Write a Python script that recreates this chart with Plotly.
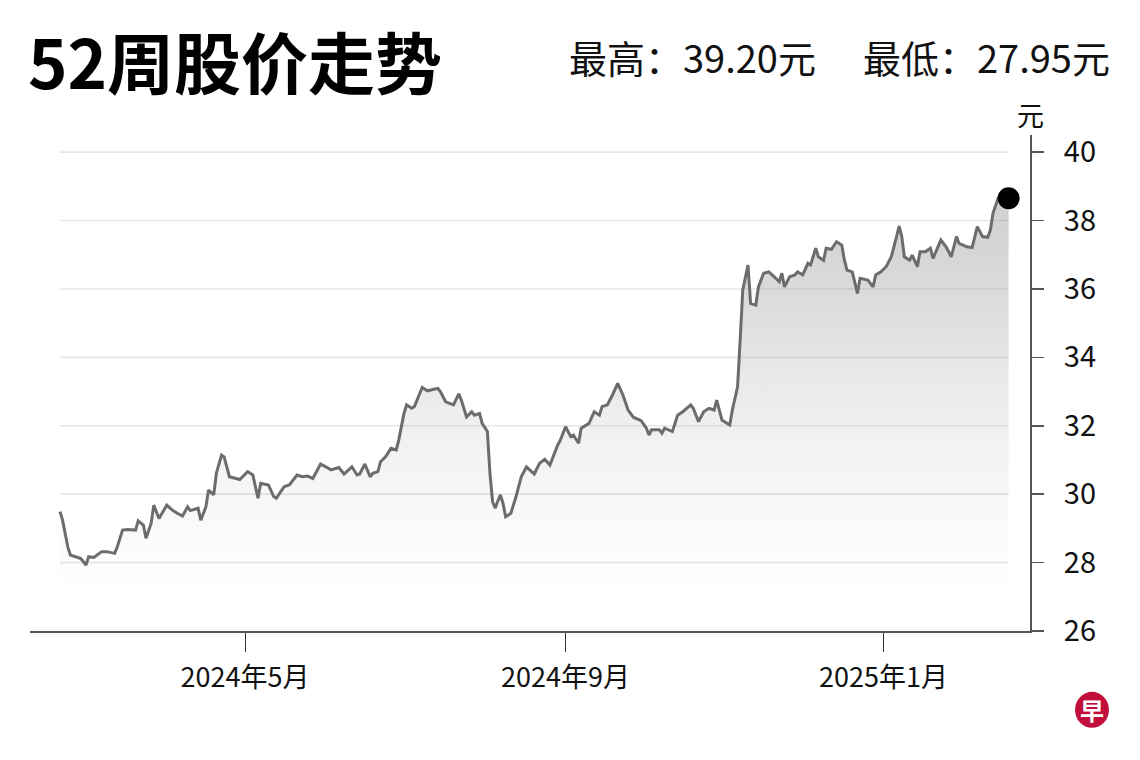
import plotly.graph_objects as go

# ---------------- data ----------------
dates = [
    "2024-02-20", "2024-02-21", "2024-02-23", "2024-02-24", "2024-02-26", "2024-02-28",
    "2024-03-01", "2024-03-02", "2024-03-04", "2024-03-07", "2024-03-09", "2024-03-12",
    "2024-03-13", "2024-03-15", "2024-03-17", "2024-03-20", "2024-03-21", "2024-03-23",
    "2024-03-24", "2024-03-26", "2024-03-27", "2024-03-29",
    "2024-04-01", "2024-04-03", "2024-04-05", "2024-04-07", "2024-04-09", "2024-04-10",
    "2024-04-13", "2024-04-14", "2024-04-16", "2024-04-17", "2024-04-19", "2024-04-20",
    "2024-04-22", "2024-04-23", "2024-04-25", "2024-04-27", "2024-04-29",
    "2024-05-02", "2024-05-04", "2024-05-06", "2024-05-07", "2024-05-10", "2024-05-12",
    "2024-05-13", "2024-05-16", "2024-05-18", "2024-05-21", "2024-05-23", "2024-05-25",
    "2024-05-27", "2024-05-30",
    "2024-06-01", "2024-06-03", "2024-06-06", "2024-06-08", "2024-06-11", "2024-06-13",
    "2024-06-14", "2024-06-16", "2024-06-18", "2024-06-19", "2024-06-21", "2024-06-22",
    "2024-06-24", "2024-06-26", "2024-06-28", "2024-06-29",
    "2024-07-01", "2024-07-02", "2024-07-04", "2024-07-05", "2024-07-08", "2024-07-10",
    "2024-07-12", "2024-07-14", "2024-07-15", "2024-07-17", "2024-07-20", "2024-07-22",
    "2024-07-23", "2024-07-25", "2024-07-27", "2024-07-28", "2024-07-30", "2024-07-31",
    "2024-08-02", "2024-08-03", "2024-08-04", "2024-08-05", "2024-08-06", "2024-08-07",
    "2024-08-08", "2024-08-09", "2024-08-11", "2024-08-13", "2024-08-15", "2024-08-17",
    "2024-08-20", "2024-08-22", "2024-08-24", "2024-08-26", "2024-08-29", "2024-08-30",
    "2024-09-01", "2024-09-03", "2024-09-04", "2024-09-06", "2024-09-07", "2024-09-10",
    "2024-09-12", "2024-09-14", "2024-09-15", "2024-09-17", "2024-09-19", "2024-09-21",
    "2024-09-23", "2024-09-25", "2024-09-27", "2024-09-30",
    "2024-10-02", "2024-10-03", "2024-10-04", "2024-10-07", "2024-10-08", "2024-10-09",
    "2024-10-12", "2024-10-14", "2024-10-16", "2024-10-19", "2024-10-20", "2024-10-22",
    "2024-10-24", "2024-10-26", "2024-10-28", "2024-10-29", "2024-10-31",
    "2024-11-02", "2024-11-03", "2024-11-04", "2024-11-06", "2024-11-07", "2024-11-08",
    "2024-11-10", "2024-11-11", "2024-11-13", "2024-11-14", "2024-11-16", "2024-11-18",
    "2024-11-20", "2024-11-22", "2024-11-23", "2024-11-24", "2024-11-26", "2024-11-28",
    "2024-11-29",
    "2024-12-01", "2024-12-03", "2024-12-04", "2024-12-06", "2024-12-07", "2024-12-09",
    "2024-12-10", "2024-12-12", "2024-12-14", "2024-12-16", "2024-12-17", "2024-12-18",
    "2024-12-20", "2024-12-22", "2024-12-23", "2024-12-26", "2024-12-28", "2024-12-29",
    "2024-12-31",
    "2025-01-02", "2025-01-04", "2025-01-06", "2025-01-07", "2025-01-08", "2025-01-09",
    "2025-01-11", "2025-01-12", "2025-01-14", "2025-01-15", "2025-01-17", "2025-01-19",
    "2025-01-20", "2025-01-23", "2025-01-25", "2025-01-27", "2025-01-29", "2025-01-30",
    "2025-02-02", "2025-02-04", "2025-02-06", "2025-02-08", "2025-02-10", "2025-02-11",
    "2025-02-12", "2025-02-14", "2025-02-15", "2025-02-17", "2025-02-18",
]

prices = [
    29.49, 29.24, 28.46, 28.22, 28.17, 28.12,
    27.93, 28.17, 28.15, 28.32, 28.32, 28.27,
    28.46, 28.95, 28.97, 28.95, 29.22, 29.10,
    28.71, 29.15, 29.68, 29.29,
    29.68, 29.54, 29.44, 29.36, 29.63, 29.52,
    29.59, 29.24, 29.63, 30.12, 29.98, 30.61,
    31.14, 31.09, 30.51, 30.46, 30.43,
    30.66, 30.56, 29.88, 30.32, 30.27, 29.93,
    29.88, 30.22, 30.27, 30.56, 30.51, 30.53,
    30.46, 30.88,
    30.80, 30.71, 30.78, 30.59, 30.80, 30.56,
    30.59, 30.88, 30.51, 30.61, 30.66, 30.95,
    31.10, 31.34, 31.29, 31.58,
    32.36, 32.61, 32.51, 32.56, 33.12, 33.02,
    33.06, 33.09, 32.99, 32.70, 32.61, 32.93,
    32.75, 32.26, 32.41, 32.31, 32.36, 32.07,
    31.83, 30.60, 29.78, 29.59, 29.80, 29.98,
    29.73, 29.34, 29.44, 29.93, 30.51, 30.80,
    30.59, 30.90, 31.02, 30.85, 31.44, 31.58,
    31.97, 31.68, 31.73, 31.49, 31.93, 32.07,
    32.41, 32.31, 32.56, 32.61, 32.90, 33.24,
    32.90, 32.46, 32.25, 32.15,
    31.93, 31.73, 31.88, 31.88, 31.78, 31.93,
    31.83, 32.31, 32.41, 32.61, 32.51, 32.12,
    32.41, 32.51, 32.46, 32.75, 32.17,
    32.07, 32.02, 32.46, 33.14, 34.51, 35.97,
    36.70, 35.58, 35.53, 36.06, 36.46, 36.50,
    36.36, 36.21, 36.46, 36.06, 36.36, 36.41,
    36.50,
    36.41, 36.75, 36.70, 37.19, 36.94, 36.84,
    37.19, 37.16, 37.38, 37.28, 36.84, 36.55,
    36.50, 35.87, 36.31, 36.26, 36.06, 36.41,
    36.50,
    36.65, 36.94, 37.53, 37.84, 37.53, 36.94,
    36.84, 36.99, 36.65, 37.09, 37.09, 37.19,
    36.89, 37.43, 37.23, 36.94, 37.53, 37.33,
    37.23, 37.21, 37.82, 37.53, 37.51, 37.72,
    38.21, 38.65, 38.70, 38.68, 38.65,
]

x_tick_vals = ["2024-05-01", "2024-09-01", "2025-01-01"]
x_tick_text = ["2024年5月", "2024年9月", "2025年1月"]
y_tick_vals = [26, 28, 30, 32, 34, 36, 38, 40]
grid_vals = [28, 30, 32, 34, 36, 38, 40]

title_text = "52周股价走势"
high_text = "最高：39.20元"
low_text = "最低：27.95元"
unit_text = "元"
logo_text = "早"

# ---------------- figure ----------------
FONT = "Noto Sans CJK SC, Noto Sans, sans-serif"

fig = go.Figure()

fig.add_trace(go.Scatter(
    x=dates, y=prices,
    mode="lines",
    line=dict(color="#6c6c6c", width=3),
    fill="tozeroy",
    fillgradient=dict(
        type="vertical",
        start=26, stop=40,
        colorscale=[
            [0.0, "rgba(128,128,128,0)"],
            [0.071, "rgba(128,128,128,0)"],
            [0.143, "rgba(128,128,128,0.02)"],
            [0.286, "rgba(128,128,128,0.065)"],
            [0.429, "rgba(128,128,128,0.12)"],
            [0.571, "rgba(128,128,128,0.2)"],
            [0.714, "rgba(128,128,128,0.29)"],
            [0.857, "rgba(128,128,128,0.35)"],
            [1.0, "rgba(128,128,128,0.4)"],
        ],
    ),
    hoverinfo="skip",
    showlegend=False,
))

fig.add_trace(go.Scatter(
    x=[dates[-1]], y=[prices[-1]],
    mode="markers",
    marker=dict(color="#000000", size=22),
    cliponaxis=False,
    hoverinfo="skip",
    showlegend=False,
))

shapes = []
for g in grid_vals:
    shapes.append(dict(
        type="line", xref="x", yref="y",
        x0=dates[0], x1=dates[-1], y0=g, y1=g,
        line=dict(color="#e6e6e6", width=1.6),
        layer="below",
    ))

# logo circle
shapes.append(dict(
    type="circle",
    xref="paper", yref="paper",
    xsizemode="pixel", ysizemode="pixel",
    xanchor=1.062, yanchor=-0.159,
    x0=-17, x1=17, y0=-18, y1=18,
    fillcolor="#c10f3c", line=dict(width=0),
))

annotations = [
    dict(text=f"<b>{title_text}</b>", xref="paper", yref="paper",
         x=-0.004, y=1.153, xanchor="left", yanchor="middle", showarrow=False,
         font=dict(family=FONT, size=67, color="#000000", weight=900)),
    dict(text=high_text, xref="paper", yref="paper",
         x=0.537, y=1.158, xanchor="left", yanchor="middle", showarrow=False,
         font=dict(family=FONT, size=38, color="#111111")),
    dict(text=low_text, xref="paper", yref="paper",
         x=1.082, y=1.158, xanchor="right", yanchor="middle", showarrow=False,
         font=dict(family=FONT, size=38, color="#111111")),
    dict(text=unit_text, xref="paper", yref="paper",
         x=1.0, y=1.042, xanchor="center", yanchor="middle", showarrow=False,
         font=dict(family=FONT, size=27, color="#111111")),
    dict(text=f"<b>{logo_text}</b>", xref="paper", yref="paper",
         x=1.062, y=-0.159, xanchor="center", yanchor="middle", showarrow=False,
         font=dict(family=FONT, size=24, color="#ffffff")),
]

fig.update_layout(
    width=1140, height=760,
    autosize=False,
    margin=dict(l=30, r=110, t=135, b=129, pad=0, autoexpand=False),
    paper_bgcolor="#ffffff",
    plot_bgcolor="#ffffff",
    showlegend=False,
    hovermode=False,
    shapes=shapes,
    annotations=annotations,
    font=dict(family=FONT, color="#111111"),
    xaxis=dict(
        type="date",
        domain=[0, 1],
        range=["2024-02-08 12:00", "2025-02-26 05:00"],
        autorange=False,
        tickmode="array", tickvals=x_tick_vals, ticktext=x_tick_text,
        ticks="outside", ticklen=19, tickwidth=1, tickcolor="#333333",
        showgrid=False, zeroline=False,
        showline=True, linecolor="#555555", linewidth=2,
        tickfont=dict(family=FONT, size=27, color="#111111"),
        ticklabelstandoff=3,
        automargin=False,
        fixedrange=True,
    ),
    yaxis=dict(
        range=[26, 40.5],
        autorange=False,
        side="right",
        tickmode="array", tickvals=y_tick_vals,
        ticks="outside", ticklen=12, tickwidth=1.5, tickcolor="#555555",
        showgrid=False, zeroline=False,
        showline=True, linecolor="#555555", linewidth=2,
        tickfont=dict(family=FONT, size=29, color="#111111"),
        ticklabelstandoff=14,
        automargin=False,
        fixedrange=True,
    ),
)

fig.write_html(
    "out.html",
    config={"displayModeBar": False, "staticPlot": True, "responsive": False},
    post_script="document.body.style.margin='0';document.body.style.overflow='hidden';",
)
